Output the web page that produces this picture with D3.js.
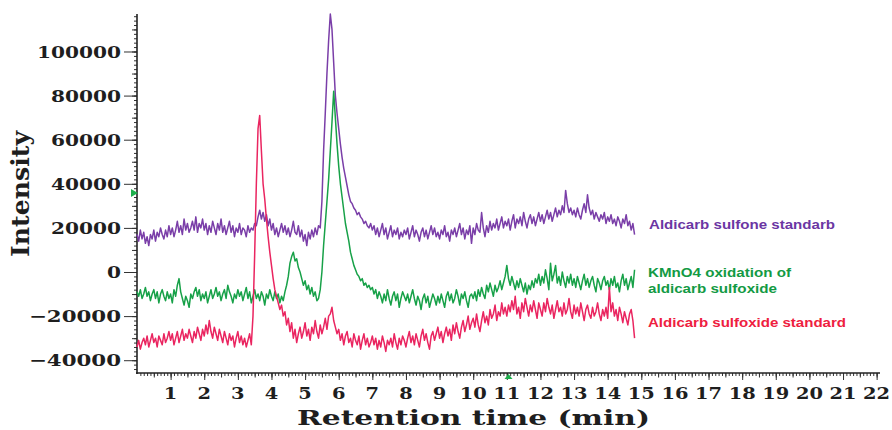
<!DOCTYPE html>
<html>
<head>
<meta http-equiv="Content-type" content="text/html; charset=utf-8">
<title>Chromatogram</title>
<script src="https://cdn.jsdelivr.net/npm/d3@7"></script>
<style>
  body { margin: 0; background: #fff; }
  .tlabel { font-family: "DejaVu Serif", "Liberation Mono", serif; font-weight: bold; fill: #1e1e1e; }
  .legend { font-family: "Liberation Sans", Arial, sans-serif; font-weight: bold; }
</style>
</head>
<body>
<svg id="chart" width="892" height="430"></svg>
<script type="text/javascript">

// one sample every 0.05 min, starting at 0 min; intensities in thousands
var sampleStep = 0.05;
var unit = 1000;

var sulfone = [
  17,14,19,15,18,13,16,12,17,15,19,14,18,16,20,17,15,19,16,21,
  17,20,16,19,23,18,21,17,24,19,22,18,20,23,19,25,18,22,20,24,
  19,22,17,21,18,23,20,17,22,19,24,18,21,17,20,23,18,21,16,20,
  18,22,17,20,19,16,21,18,20,19,22,21,25,28,24,27,23,26,21,24,
  19,22,17,20,16,19,22,18,21,17,20,16,19,23,18,17,21,16,19,14,
  17,12,18,15,19,16,20,17,21,20,32,55,72,90,105,117,110,95,80,72,
  65,58,52,47,43,39,35,32,31,29,28,26,27,25,24,22,23,21,20,22,
  19,21,17,20,16,19,22,17,20,15,18,21,16,19,17,20,15,18,16,19,
  17,20,15,18,21,16,19,17,14,18,20,16,19,15,18,21,17,20,16,18,
  15,19,17,21,16,18,14,19,17,20,16,19,22,17,20,15,19,17,21,13,
  20,17,22,19,18,27,20,16,21,18,23,19,22,20,24,19,22,25,20,23,
  21,24,19,23,26,20,24,22,25,21,27,23,20,24,26,22,25,21,24,27,
  23,26,22,25,28,24,27,23,26,29,25,28,26,30,27,37,31,27,29,26,
  28,25,29,26,24,28,31,27,35,29,26,28,24,27,25,23,26,24,27,22,
  25,23,26,22,24,21,25,23,20,24,22,26,21,23,19,22,17
];

var oxidation = [
  -9,-11,-8,-12,-10,-7,-11,-9,-13,-10,-8,-12,-9,-14,-10,-8,-11,-13,-9,-12,
  -10,-14,-8,-11,-6,-3,-9,-12,-15,-11,-13,-16,-10,-12,-9,-7,-11,-8,-13,-10,
  -12,-9,-14,-11,-8,-12,-10,-7,-11,-9,-13,-10,-8,-12,-6,-9,-11,-14,-10,-12,
  -8,-11,-9,-13,-10,-7,-12,-9,-14,-11,-8,-12,-10,-13,-9,-11,-15,-10,-12,-8,
  -11,-13,-9,-12,-10,-14,-11,-13,-9,-6,-2,4,7,9,5,6,2,0,-3,-6,
  -4,-8,-6,-10,-7,-11,-9,-13,-12,-8,0,12,22,32,42,55,68,82,70,58,
  48,40,34,28,22,18,14,9,6,3,1,-1,-2,-4,-3,-6,-5,-7,-6,-8,
  -7,-10,-8,-12,-9,-11,-14,-10,-13,-8,-12,-15,-11,-9,-13,-10,-16,-12,-9,-11,
  -13,-10,-14,-11,-8,-12,-15,-11,-13,-17,-12,-10,-14,-11,-16,-13,-10,-12,-15,-11,
  -14,-10,-13,-16,-11,-9,-13,-10,-14,-12,-8,-11,-15,-10,-12,-9,-13,-16,-11,-10,
  -12,-9,-13,-8,-11,-7,-10,-12,-6,-9,-5,-8,-11,-6,-9,-7,-4,-8,-5,-2,
  3,-3,-6,-2,-5,-8,-4,-7,-3,-6,-9,-5,-10,-6,-8,-4,-7,-3,-5,-1,
  -6,-2,-5,1,-3,-8,4,-4,-1,3,-5,-2,-6,0,-4,-7,-2,-5,-1,-6,
  -3,-7,-2,-5,-8,-4,-1,-6,-3,-7,-4,-2,-6,-9,-3,-5,-8,-4,-2,-6,
  -4,-8,-3,-6,-2,-7,-5,-9,-4,-1,-6,-3,-8,-5,-2,-7,1
];

var sulfoxide = [
  -34,-31,-35,-32,-30,-33,-29,-34,-31,-28,-32,-30,-34,-29,-31,-33,-28,-32,-30,-27,
  -31,-28,-33,-30,-27,-32,-29,-26,-31,-28,-30,-26,-29,-32,-27,-30,-25,-28,-31,-26,
  -29,-24,-28,-22,-27,-30,-25,-28,-31,-26,-29,-32,-27,-30,-33,-28,-31,-29,-34,-30,
  -27,-32,-29,-33,-30,-34,-31,-28,-33,-20,8,40,65,71,55,40,33,24,16,9,
  3,-3,-8,-11,-14,-17,-15,-20,-18,-24,-21,-27,-23,-30,-26,-32,-28,-25,-30,-27,
  -23,-29,-26,-31,-25,-28,-22,-27,-30,-24,-28,-25,-21,-26,-20,-19,-16,-22,-25,-28,
  -26,-31,-28,-33,-29,-27,-32,-30,-34,-28,-31,-33,-29,-35,-31,-28,-33,-30,-34,-32,
  -29,-33,-30,-35,-31,-34,-29,-32,-36,-31,-33,-30,-34,-28,-32,-35,-30,-33,-29,-31,
  -34,-30,-27,-32,-29,-33,-28,-31,-34,-29,-26,-31,-28,-32,-35,-29,-27,-31,-28,-25,
  -30,-27,-32,-28,-25,-29,-26,-31,-24,-28,-23,-27,-30,-25,-22,-27,-24,-20,-26,-23,
  -21,-25,-19,-24,-27,-22,-18,-23,-20,-24,-17,-21,-19,-15,-22,-18,-20,-14,-19,-16,
  -20,-15,-18,-13,-17,-11,-19,-16,-21,-14,-18,-12,-16,-20,-15,-18,-13,-17,-21,-14,
  -17,-20,-14,-18,-12,-16,-19,-15,-21,-17,-13,-18,-16,-20,-14,-19,-17,-12,-18,-21,
  -15,-19,-16,-20,-14,-18,-22,-17,-15,-19,-21,-16,-20,-18,-14,-19,-22,-17,-20,-16,
  -21,-7,-18,-14,-20,-17,-22,-16,-19,-23,-18,-21,-24,-19,-17,-22,-30
];

var seriesNames = ["Aldicarb sulfone standarb", "KMnO4 oxidation of|aldicarb sulfoxide", "Aldicarb sulfoxide standard"];
var seriesColors = ["#7a3ea8", "#17a148", "#ea2560"];
var legendColors = ["#6b36a3", "#139a44", "#ee2040"];

var xTicks = d3.range(1, 23);
var yTicks = [-40000, -20000, 0, 20000, 40000, 60000, 80000, 100000];

var xDomain = [0, 22.1];
var yDomain = [-45800, 117000];


function init() {
  var svg = d3.select("#chart");

  var x = d3.scaleLinear().domain(xDomain).range([137, 880]);
  var y = d3.scaleLinear().domain(yDomain).range([373, 14]);

  drawAxes(svg, x, y);
  drawTraces(svg, x, y);
  drawLegend(svg);
}


function drawAxes(svg, x, y) {
  var g = svg.append("g").attr("stroke", "#222");

  // minor / medium ticks on Y
  g.append("g").attr("transform", "translate(137,0)")
    .call(d3.axisLeft(y).tickValues(d3.range(-44000, 116001, 2000)).tickSize(3).tickFormat(""))
    .call(function (a) { a.select(".domain").remove(); });
  g.append("g").attr("transform", "translate(137,0)")
    .call(d3.axisLeft(y).tickValues(d3.range(-40000, 110001, 10000)).tickSize(5).tickFormat(""))
    .call(function (a) { a.select(".domain").remove(); });
  g.append("g").attr("transform", "translate(137,0)")
    .call(d3.axisLeft(y).tickValues(yTicks).tickSize(13).tickFormat(""))
    .call(function (a) { a.select(".domain").remove(); });

  // minor / medium ticks on X
  g.append("g").attr("transform", "translate(0,373)")
    .call(d3.axisBottom(x).tickValues(d3.range(0.1, 22.05, 0.1)).tickSize(3).tickFormat(""))
    .call(function (a) { a.select(".domain").remove(); });
  g.append("g").attr("transform", "translate(0,373)")
    .call(d3.axisBottom(x).tickValues(d3.range(0.5, 22.05, 0.5)).tickSize(4.5).tickFormat(""))
    .call(function (a) { a.select(".domain").remove(); });
  g.append("g").attr("transform", "translate(0,373)")
    .call(d3.axisBottom(x).tickValues(xTicks).tickSize(7).tickFormat(""))
    .call(function (a) { a.select(".domain").remove(); });

  svg.selectAll(".tick line").attr("stroke", "#333").attr("stroke-width", 1);

  // axis lines
  svg.append("line").attr("x1", 137).attr("x2", 137).attr("y1", y(yDomain[1])).attr("y2", 374)
    .attr("stroke", "#222").attr("stroke-width", 1.6);
  svg.append("line").attr("x1", 136).attr("x2", x(xDomain[1])).attr("y1", 373).attr("y2", 373)
    .attr("stroke", "#222").attr("stroke-width", 1.6);

  // tick labels
  svg.selectAll(".ylab").data(yTicks).enter().append("text")
    .attr("class", "tlabel")
    .attr("x", 121).attr("y", function (d) { return y(d); })
    .attr("dy", "0.36em")
    .attr("text-anchor", "end")
    .attr("font-size", 17)
    .attr("textLength", function (d) { var s = String(Math.abs(d)); return s.length * 14 + (d < 0 ? 22 : 0); })
    .attr("lengthAdjust", "spacingAndGlyphs")
    .text(function (d) { return d < 0 ? "\u2212" + Math.abs(d) : String(d); });

  svg.selectAll(".xlab").data(xTicks).enter().append("text")
    .attr("class", "tlabel")
    .attr("x", function (d) { return x(d); }).attr("y", 399)
    .attr("text-anchor", "middle")
    .attr("font-size", 16)
    .attr("textLength", function (d) { return String(d).length * 13.5; })
    .attr("lengthAdjust", "spacingAndGlyphs")
    .text(function (d) { return d; });

  // titles
  svg.append("text").attr("class", "tlabel")
    .attr("x", 297).attr("y", 425)
    .attr("font-size", 21)
    .attr("textLength", 353).attr("lengthAdjust", "spacingAndGlyphs")
    .text("Retention time (min)");

  svg.append("text").attr("class", "tlabel")
    .attr("transform", "translate(29,194) rotate(-90)")
    .attr("text-anchor", "middle")
    .attr("font-size", 25)
    .attr("textLength", 126).attr("lengthAdjust", "spacingAndGlyphs")
    .text("Intensity");

  // small green markers
  svg.append("path").attr("d", "M131,189L138,193L131,197Z").attr("fill", "#1db04c");
  svg.append("path").attr("transform", "translate(" + x(11.05) + ",374)")
    .attr("d", "M-4,5L0,0L4,5Z").attr("fill", "#1db04c");
}


function drawTraces(svg, x, y) {
  var line = d3.line()
    .x(function (d, i) { return x(i * sampleStep); })
    .y(function (d) { return y(d * unit); });

  [sulfone, oxidation, sulfoxide].forEach(function (s, k) {
    svg.append("path")
      .attr("d", line(s))
      .attr("fill", "none")
      .attr("stroke", seriesColors[k])
      .attr("stroke-width", 1.5)
      .attr("stroke-linejoin", "round");
  });
}


function drawLegend(svg) {
  // label rows: [series, line text, x, baseline, width]
  var rows = [
    [0, seriesNames[0], 649, 229, 186],
    [1, seriesNames[1].split("|")[0], 648, 277, 143],
    [1, seriesNames[1].split("|")[1], 648, 293, 129],
    [2, seriesNames[2], 648, 327, 198]
  ];
  svg.selectAll(".legend").data(rows).enter().append("text")
    .attr("class", "legend")
    .attr("x", function (d) { return d[2]; })
    .attr("y", function (d) { return d[3]; })
    .attr("font-size", 12.5)
    .attr("fill", function (d) { return legendColors[d[0]]; })
    .attr("textLength", function (d) { return d[4]; })
    .attr("lengthAdjust", "spacingAndGlyphs")
    .text(function (d) { return d[1]; });
}

init();

</script>
</body>
</html>
